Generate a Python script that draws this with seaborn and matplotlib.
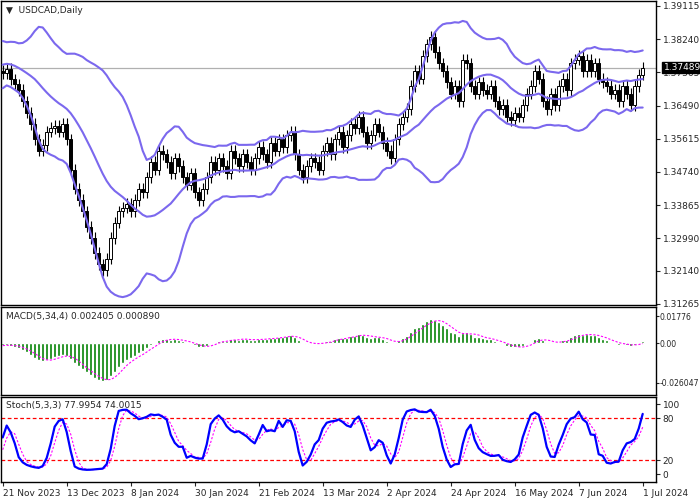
import numpy as np
import pandas as pd
import seaborn as sns
from matplotlib import pyplot as plt

# closes before the visible window (warm-up for the indicators)
pre_close = [1.3680, 1.3700, 1.3730, 1.3750, 1.3780, 1.3800, 1.3830, 1.3850, 1.3860, 1.3870,
             1.3840, 1.3820, 1.3800, 1.3760, 1.3720, 1.3700, 1.3750, 1.3780, 1.3800, 1.3790,
             1.3770, 1.3750, 1.3730, 1.3760, 1.3790, 1.3810, 1.3800, 1.3780, 1.3750, 1.3740,
             1.3720, 1.3710, 1.3730, 1.3740]

# visible daily closes, 21 Nov 2023 .. 2 Jul 2024
close = [1.3735, 1.3745, 1.3718, 1.3705, 1.3690, 1.3660, 1.3630, 1.3600, 1.3560, 1.3530,
         1.3545, 1.3580, 1.3590, 1.3595, 1.3580, 1.3600, 1.3560, 1.3480, 1.3430, 1.3400,
         1.3370, 1.3330, 1.3300, 1.3260, 1.3230, 1.3215, 1.3245, 1.3300, 1.3340, 1.3370,
         1.3380, 1.3390, 1.3370, 1.3400, 1.3430, 1.3420, 1.3460, 1.3500, 1.3480, 1.3530,
         1.3520, 1.3500, 1.3470, 1.3510, 1.3490, 1.3460, 1.3440, 1.3470, 1.3420, 1.3400,
         1.3430, 1.3460, 1.3500, 1.3480, 1.3510, 1.3490, 1.3470, 1.3530, 1.3510, 1.3490,
         1.3520, 1.3500, 1.3480, 1.3510, 1.3540, 1.3520, 1.3500, 1.3550, 1.3530, 1.3560,
         1.3540, 1.3570, 1.3580, 1.3520, 1.3480, 1.3460, 1.3490, 1.3510, 1.3500, 1.3480,
         1.3530, 1.3550, 1.3520, 1.3560, 1.3580, 1.3540, 1.3570, 1.3600, 1.3590, 1.3620,
         1.3580, 1.3550, 1.3570, 1.3600, 1.3580, 1.3550, 1.3530, 1.3510, 1.3560, 1.3600,
         1.3620, 1.3640, 1.3700, 1.3740, 1.3720, 1.3780, 1.3810, 1.3830, 1.3790, 1.3760,
         1.3740, 1.3710, 1.3680, 1.3700, 1.3660, 1.3770, 1.3760, 1.3700, 1.3680, 1.3710,
         1.3690, 1.3680, 1.3700, 1.3660, 1.3640, 1.3650, 1.3620, 1.3610, 1.3630, 1.3620,
         1.3650, 1.3680, 1.3700, 1.3740, 1.3720, 1.3660, 1.3640, 1.3680, 1.3650, 1.3700,
         1.3720, 1.3690, 1.3760, 1.3770, 1.3780, 1.3740, 1.3770, 1.3740, 1.3760, 1.3720,
         1.3710, 1.3700, 1.3680, 1.3690, 1.3660, 1.3700, 1.3680, 1.3650, 1.3700, 1.3730,
         1.3749]

date_labels = ['21 Nov 2023', '13 Dec 2023', '8 Jan 2024', '30 Jan 2024', '21 Feb 2024',
               '13 Mar 2024', '2 Apr 2024', '24 Apr 2024', '16 May 2024', '7 Jun 2024', '1 Jul 2024']
price_ticks = [1.39115, 1.38240, 1.37365, 1.36490, 1.35615, 1.34740, 1.33865, 1.32990, 1.32140, 1.31265]
macd_ticks = [0.01776, 0.0, -0.026047]
macd_tick_labels = ['0.01776', '0.00', '-0.026047']
stoch_ticks = [100, 80, 20, 0]
last_price = 1.37489

# ---- indicators from the price series ----
allc = pd.Series(pre_close + close)
opens = allc.shift(1).fillna(allc.iloc[0])
wick = 0.0015
highs = np.maximum(opens, allc) + wick
lows = np.minimum(opens, allc) - wick

mid = allc.rolling(20).mean()
sd = allc.rolling(20).std(ddof=0)
upper, lower = mid + 2 * sd, mid - 2 * sd

macd = allc.ewm(span=5, adjust=False).mean() - allc.ewm(span=34, adjust=False).mean()
signal = macd.rolling(4).mean()

hh = highs.rolling(5).max()
ll = lows.rolling(5).min()
k = 100 * (allc - ll).rolling(3).sum() / (hh - ll).rolling(3).sum()
d = k.rolling(3).mean()

n0 = len(pre_close)
idx = np.arange(len(close))
df = pd.DataFrame({
    'i': idx,
    'open': opens.values[n0:], 'close': allc.values[n0:],
    'high': highs.values[n0:], 'low': lows.values[n0:],
    'mid': mid.values[n0:], 'upper': upper.values[n0:], 'lower': lower.values[n0:],
    'macd': macd.values[n0:], 'signal': signal.values[n0:],
    'k': k.values[n0:], 'd': d.values[n0:],
})

sns.set_style('white')
plt.rcParams['font.family'] = ['DejaVu Sans']

fig = plt.figure(figsize=(7, 5), dpi=100)
W = 655 / 700
ax1 = fig.add_axes([0.001, 1 - 305 / 500, W, 304 / 500])
ax2 = fig.add_axes([0.001, 1 - 395 / 500, W, 88 / 500])
ax3 = fig.add_axes([0.001, 1 - 482 / 500, W, 85 / 500])
xlim = (-0.5, 163.25)

# ---- price panel ----
up = df['close'] >= df['open']
ax1.vlines(df['i'], df['low'], df['high'], color='black', lw=0.8, zorder=2)
ax1.bar(df['i'][up], (df['close'] - df['open'])[up].clip(lower=0.0002), bottom=df['open'][up],
        width=0.8, color='white', edgecolor='black', lw=0.7, zorder=3)
ax1.bar(df['i'][~up], (df['open'] - df['close'])[~up].clip(lower=0.0002), bottom=df['close'][~up],
        width=0.8, color='black', edgecolor='black', lw=0.7, zorder=3)
for col in ['upper', 'mid', 'lower']:
    sns.lineplot(data=df, x='i', y=col, ax=ax1, color='#7b68ee', lw=1.5, zorder=4)
ax1.axhline(last_price, color='#b0b0b0', lw=0.9, zorder=1)
ax1.set_ylim(1.31231, 1.39246)
ax1.set_yticks(price_ticks)
ax1.set_yticklabels([f'{t:.5f}' for t in price_ticks])
ax1.text(0.008, 0.985, '\u25BC  USDCAD,Daily', transform=ax1.transAxes, fontsize=6.5, va='top')
ax1.text(1.012, last_price, f'{last_price:.5f}', transform=ax1.get_yaxis_transform(), fontsize=6.5,
         color='white', va='center', bbox=dict(facecolor='black', edgecolor='black', pad=1.0))

# ---- MACD panel ----
ax2.bar(df['i'], df['macd'], width=0.8, color='#008000', zorder=2)
sns.lineplot(data=df, x='i', y='signal', ax=ax2, color='#ff00ff', lw=0.8, linestyle=(0, (2, 1.5)), zorder=3)
ax2.set_ylim(-0.0342, 0.0237)
ax2.set_yticks(macd_ticks)
ax2.set_yticklabels(macd_tick_labels)
ax2.text(0.008, 0.94, 'MACD(5,34,4) 0.002405 0.000890', transform=ax2.transAxes, fontsize=6.5, va='top')

# ---- Stochastic panel ----
ax3.axhline(80, color='red', lw=0.9, linestyle=(0, (3, 2)))
ax3.axhline(20, color='red', lw=0.9, linestyle=(0, (3, 2)))
sns.lineplot(data=df, x='i', y='d', ax=ax3, color='#ff00ff', lw=0.8, linestyle=(0, (2, 1.5)))
sns.lineplot(data=df, x='i', y='k', ax=ax3, color='#0000ff', lw=1.6)
ax3.set_ylim(-11.4, 110)
ax3.set_yticks(stoch_ticks)
ax3.text(0.008, 0.95, 'Stoch(5,3,3) 77.9954 74.0015', transform=ax3.transAxes, fontsize=6.5, va='top')
ax3.set_xticks(np.arange(0, 161, 16))
ax3.set_xticklabels(date_labels, ha='left')

for ax in (ax1, ax2, ax3):
    ax.set_xlim(*xlim)
    ax.set_xlabel('')
    ax.set_ylabel('')
    ax.yaxis.tick_right()
    ax.tick_params(axis='y', labelsize=6.5, length=3, pad=2, right=True)
    for s in ax.spines.values():
        s.set_color('black')
        s.set_linewidth(1)
    if ax is not ax3:
        ax.set_xticks([])
ax2.tick_params(axis='y', labelsize=5.6, length=2, pad=1)
ax3.tick_params(axis='x', labelsize=6.5, length=3, pad=2, bottom=True)

fig.savefig('out.png', dpi=100)
